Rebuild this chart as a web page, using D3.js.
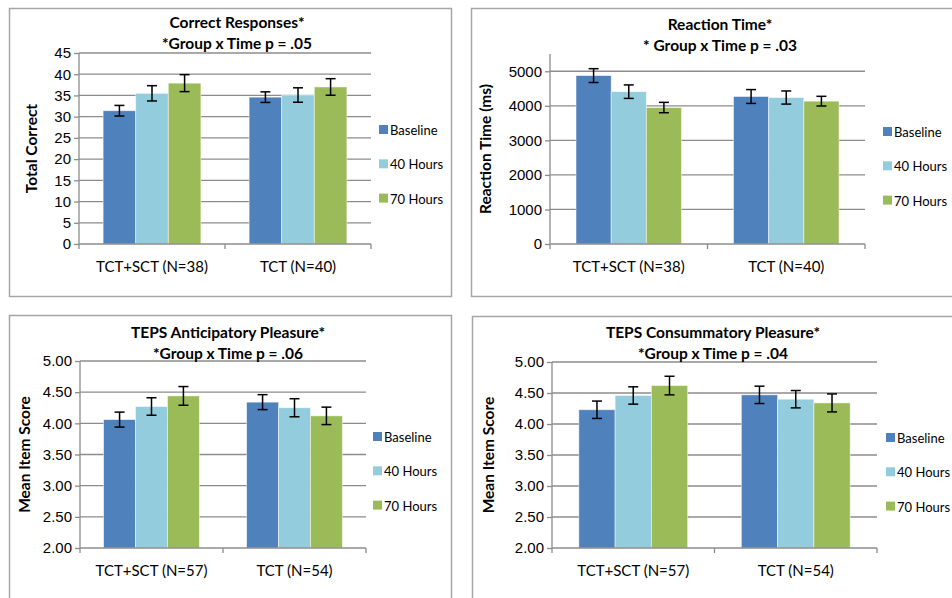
<!DOCTYPE html>
<html>
<head>
<meta charset="utf-8">
<script src="https://cdn.jsdelivr.net/npm/d3@7"></script>
<style>
  body { margin: 0; background: #fff; }
  svg { font-family: Lato, "Liberation Sans", sans-serif; }
  .grid line { stroke: #8c8c8c; stroke-width: 1.3; }
  .axis path, .axis line { stroke: #8c8c8c; stroke-width: 1.3; }
  .axis text { font-size: 15px; fill: #000; }
</style>
</head>
<body>
<svg id="chart" width="952" height="598"></svg>
<script>
// groups + series
var times = ["Baseline", "40 Hours", "70 Hours"];
var timeColors = ["#4f81bd", "#93cddd", "#9bbb59"];

var groupsA = ["TCT+SCT (N=38)", "TCT (N=40)"];
var groupsB = ["TCT+SCT (N=57)", "TCT (N=54)"];

// correct responses (rows = group, cols = time)
var correctMean = [[31.4, 35.5, 37.9], [34.6, 35.1, 37.0]];
var correctErr  = [[1.25, 1.8, 2.0], [1.25, 1.7, 1.95]];
var correctTicks = [0, 5, 10, 15, 20, 25, 30, 35, 40, 45];

// reaction time
var rtMean = [[4875, 4410, 3950], [4270, 4240, 4135]];
var rtErr  = [[200, 195, 150], [200, 190, 140]];
var rtTicks = [0, 1000, 2000, 3000, 4000, 5000];

// TEPS anticipatory
var antMean = [[4.06, 4.27, 4.44], [4.34, 4.25, 4.12]];
var antErr  = [[0.12, 0.14, 0.15], [0.12, 0.145, 0.14]];

// TEPS consummatory
var conMean = [[4.23, 4.46, 4.62], [4.47, 4.40, 4.34]];
var conErr  = [[0.14, 0.14, 0.15], [0.14, 0.14, 0.145]];
var tepsTicks = [2.0, 2.5, 3.0, 3.5, 4.0, 4.5, 5.0];

var svg = d3.select("#chart");

function drawPanel(p) {
    var g = svg.append("g");

    // outer frame
    g.append("rect")
        .attr("x", p.box[0] + 0.5).attr("y", p.box[1] + 0.5)
        .attr("width", p.box[2]).attr("height", p.box[3])
        .attr("fill", "none")
        .attr("stroke", "#a6a6a6")
        .attr("stroke-width", 1.5);

    var x0 = d3.scaleBand()
        .domain(p.groups)
        .range([p.left, p.right]);

    var x1 = d3.scaleBand()
        .domain(times)
        .range([0, x0.bandwidth()])
        .paddingInner(0)
        .paddingOuter(0.74);

    var y = d3.scaleLinear()
        .domain(p.domain)
        .range([p.bottom, p.top]);

    // gridlines
    g.append("g").attr("class", "grid")
        .selectAll("line")
        .data(p.ticks.filter(function(t){ return t > p.domain[0]; }))
        .enter().append("line")
        .attr("x1", p.left).attr("x2", p.right)
        .attr("y1", function(d){ return y(d); })
        .attr("y2", function(d){ return y(d); });

    // bars
    var grp = g.selectAll(".grp")
        .data(p.groups)
        .enter().append("g")
        .attr("transform", function(d){ return "translate(" + x0(d) + ",0)"; });

    grp.each(function(gName, gi) {
        var rows = times.map(function(t, ti){
            return {time: t, ti: ti, v: p.mean[gi][ti], e: p.err[gi][ti]};
        });
        var sel = d3.select(this);
        sel.selectAll("rect")
            .data(rows)
            .enter().append("rect")
            .attr("x", function(d){ return x1(d.time); })
            .attr("y", function(d){ return y(d.v); })
            .attr("width", x1.bandwidth())
            .attr("height", function(d){ return y(p.domain[0]) - y(d.v); })
            .attr("fill", function(d){ return timeColors[d.ti]; })
            .attr("stroke", "rgba(255,255,255,0.6)")
            .attr("stroke-width", 0.8);

        // error bars
        var eb = sel.selectAll(".eb")
            .data(rows)
            .enter().append("g")
            .attr("stroke", "#000")
            .attr("stroke-width", 1.5);
        var cx = function(d){ return x1(d.time) + x1.bandwidth() / 2; };
        eb.append("line")
            .attr("x1", cx).attr("x2", cx)
            .attr("y1", function(d){ return y(d.v + d.e); })
            .attr("y2", function(d){ return y(d.v - d.e); });
        eb.append("line")
            .attr("x1", function(d){ return cx(d) - 5; })
            .attr("x2", function(d){ return cx(d) + 5; })
            .attr("y1", function(d){ return y(d.v + d.e); })
            .attr("y2", function(d){ return y(d.v + d.e); });
        eb.append("line")
            .attr("x1", function(d){ return cx(d) - 5; })
            .attr("x2", function(d){ return cx(d) + 5; })
            .attr("y1", function(d){ return y(d.v - d.e); })
            .attr("y2", function(d){ return y(d.v - d.e); });
    });

    // y axis
    var yAxis = d3.axisLeft(y)
        .tickValues(p.ticks)
        .tickSize(5)
        .tickPadding(3)
        .tickFormat(p.fmt);
    g.append("g")
        .attr("class", "axis")
        .attr("transform", "translate(" + p.left + ",0)")
        .call(yAxis)
        .call(function(a){ a.select(".domain").attr("d", "M0," + p.top + "V" + p.bottom); });

    // x axis
    var xTickPos = [p.left, (p.left + p.right) / 2, p.right];
    var xa = g.append("g").attr("class", "axis");
    xa.append("line")
        .attr("x1", p.left).attr("x2", p.right)
        .attr("y1", p.bottom).attr("y2", p.bottom);
    xa.selectAll(".xt")
        .data(xTickPos)
        .enter().append("line")
        .attr("x1", function(d){ return d; }).attr("x2", function(d){ return d; })
        .attr("y1", p.bottom).attr("y2", p.bottom + 5);
    xa.selectAll("text")
        .data(p.groups)
        .enter().append("text")
        .attr("x", function(d){ return x0(d) + x0.bandwidth() / 2; })
        .attr("y", p.bottom + 28)
        .attr("text-anchor", "middle")
        .text(function(d){ return d; });

    // titles
    g.selectAll(".ttl")
        .data(p.title)
        .enter().append("text")
        .attr("x", p.titleX)
        .attr("y", function(d, i){ return p.titleY + i * 21; })
        .attr("text-anchor", "middle")
        .attr("font-size", "15.5px")
        .attr("font-weight", "bold")
        .text(function(d){ return d; });

    // y label
    g.append("text")
        .attr("transform", "translate(" + p.ylabX + "," + ((p.top + p.bottom) / 2) + ") rotate(-90)")
        .attr("text-anchor", "middle")
        .attr("font-size", "15.5px")
        .attr("font-weight", "bold")
        .text(p.ylab);

    // legend
    var lg = g.selectAll(".lg")
        .data(times)
        .enter().append("g")
        .attr("transform", function(d, i){ return "translate(" + p.legX + "," + (p.legY + i * 34.3) + ")"; });
    lg.append("rect")
        .attr("x", 0).attr("y", -5)
        .attr("width", 9).attr("height", 9)
        .attr("fill", function(d, i){ return timeColors[i]; });
    lg.append("text")
        .attr("x", 11).attr("y", 5)
        .attr("font-size", "13px")
        .text(function(d){ return d; });
}

drawPanel({
    box: [9, 8, 442, 288],
    left: 79, right: 371, top: 53, bottom: 244,
    domain: [0, 45], ticks: correctTicks, fmt: d3.format("d"),
    groups: groupsA, mean: correctMean, err: correctErr,
    title: ["Correct Responses*", "*Group x Time p = .05"], titleX: 237, titleY: 28,
    ylab: "Total Correct", ylabX: 37,
    legX: 379, legY: 130
});

drawPanel({
    box: [471, 8, 490, 288],
    left: 550, right: 865, top: 54, bottom: 244,
    domain: [0, 5500], ticks: rtTicks, fmt: d3.format("d"),
    groups: groupsA, mean: rtMean, err: rtErr,
    title: ["Reaction Time*", "* Group x Time p = .03"], titleX: 720, titleY: 30,
    ylab: "Reaction Time (ms)", ylabX: 491,
    legX: 883, legY: 132
});

drawPanel({
    box: [9, 315, 442, 300],
    left: 80, right: 366, top: 361, bottom: 548,
    domain: [2, 5], ticks: tepsTicks, fmt: d3.format(".2f"),
    groups: groupsB, mean: antMean, err: antErr,
    title: ["TEPS Anticipatory Pleasure*", "*Group x Time p = .06"], titleX: 228, titleY: 338,
    ylab: "Mean Item Score", ylabX: 30,
    legX: 373, legY: 437
});

drawPanel({
    box: [472, 316, 490, 300],
    left: 552, right: 877, top: 362, bottom: 548,
    domain: [2, 5], ticks: tepsTicks, fmt: d3.format(".2f"),
    groups: groupsB, mean: conMean, err: conErr,
    title: ["TEPS Consummatory Pleasure*", "*Group x Time p = .04"], titleX: 713, titleY: 338,
    ylab: "Mean Item Score", ylabX: 494,
    legX: 886, legY: 438
});
</script>
</body>
</html>
